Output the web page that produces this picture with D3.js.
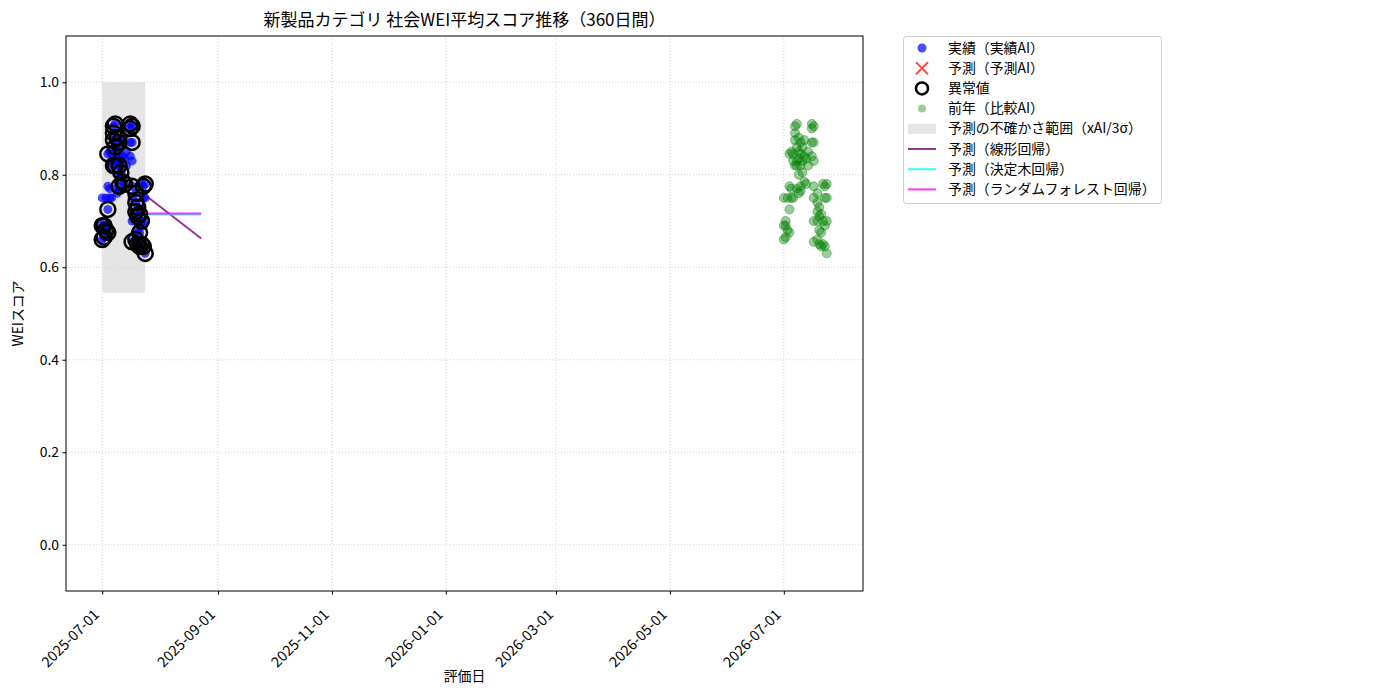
<!DOCTYPE html>
<html>
<head>
<meta charset="utf-8">
<script src="https://cdn.jsdelivr.net/npm/d3@7"></script>
<style>
body { margin: 0; background: #fff; }
text { font-family: "Noto Sans CJK JP", "DejaVu Sans", sans-serif; }
</style>
</head>
<body>
<svg id="place" width="1400" height="700"></svg>
<script>
// actual scores (blue), anomaly flag marks the black rings
var actualDates = [
    "2025-07-01","2025-07-01","2025-07-01","2025-07-02","2025-07-02","2025-07-02",
    "2025-07-03","2025-07-03","2025-07-04","2025-07-04","2025-07-04","2025-07-04",
    "2025-07-05","2025-07-05","2025-07-05","2025-07-06","2025-07-06","2025-07-06",
    "2025-07-07","2025-07-07","2025-07-07","2025-07-07","2025-07-08","2025-07-08",
    "2025-07-08","2025-07-08","2025-07-08","2025-07-09","2025-07-09","2025-07-09",
    "2025-07-09","2025-07-09","2025-07-10","2025-07-10","2025-07-10","2025-07-10",
    "2025-07-10","2025-07-11","2025-07-11","2025-07-11","2025-07-12","2025-07-12",
    "2025-07-12","2025-07-13","2025-07-13","2025-07-14","2025-07-14","2025-07-16",
    "2025-07-16","2025-07-16","2025-07-16","2025-07-17","2025-07-17","2025-07-17",
    "2025-07-17","2025-07-17","2025-07-17","2025-07-17","2025-07-19","2025-07-19",
    "2025-07-19","2025-07-19","2025-07-19","2025-07-20","2025-07-20","2025-07-20",
    "2025-07-20","2025-07-21","2025-07-21","2025-07-21","2025-07-22","2025-07-22",
    "2025-07-22","2025-07-23","2025-07-23","2025-07-23","2025-07-23","2025-07-24",
    "2025-07-24","2025-07-24","2025-07-24"
];
var actualValues = [
    0.750,0.660,0.690,0.665,0.700,0.690,
    0.680,0.750,0.845,0.775,0.725,0.675,
    0.850,0.770,0.750,0.830,0.845,0.750,
    0.905,0.890,0.875,0.820,0.910,0.860,
    0.830,0.820,0.770,0.880,0.850,0.835,
    0.800,0.760,0.870,0.845,0.820,0.775,
    0.765,0.860,0.830,0.805,0.875,0.840,
    0.785,0.835,0.780,0.850,0.820,0.910,
    0.900,0.870,0.840,0.905,0.870,0.830,
    0.775,0.750,0.700,0.655,0.760,0.740,
    0.720,0.700,0.660,0.730,0.710,0.680,
    0.650,0.715,0.675,0.645,0.780,0.700,
    0.650,0.775,0.750,0.690,0.645,0.780,
    0.750,0.700,0.630
];
var anomalyFlags = [
    0,1,1,1,0,1,
    1,0,1,0,1,1,
    0,0,0,0,0,0,
    1,1,1,1,1,1,
    0,1,0,1,0,0,
    0,0,1,0,1,1,
    0,0,0,1,0,0,
    1,0,1,0,0,1,
    1,0,0,1,1,0,
    1,0,0,1,1,1,
    1,0,1,1,1,0,
    1,1,1,1,0,1,
    1,1,0,0,1,1,
    0,0,1
];

// previous year (comparison AI, green)
var prevDates = [
    "2026-07-01","2026-07-01","2026-07-01","2026-07-02","2026-07-02","2026-07-02",
    "2026-07-03","2026-07-03","2026-07-04","2026-07-04","2026-07-04","2026-07-04",
    "2026-07-05","2026-07-05","2026-07-05","2026-07-06","2026-07-06","2026-07-06",
    "2026-07-07","2026-07-07","2026-07-07","2026-07-07","2026-07-08","2026-07-08",
    "2026-07-08","2026-07-08","2026-07-08","2026-07-09","2026-07-09","2026-07-09",
    "2026-07-09","2026-07-09","2026-07-10","2026-07-10","2026-07-10","2026-07-10",
    "2026-07-10","2026-07-11","2026-07-11","2026-07-11","2026-07-12","2026-07-12",
    "2026-07-12","2026-07-13","2026-07-13","2026-07-14","2026-07-14","2026-07-16",
    "2026-07-16","2026-07-16","2026-07-16","2026-07-17","2026-07-17","2026-07-17",
    "2026-07-17","2026-07-17","2026-07-17","2026-07-17","2026-07-19","2026-07-19",
    "2026-07-19","2026-07-19","2026-07-19","2026-07-20","2026-07-20","2026-07-20",
    "2026-07-20","2026-07-21","2026-07-21","2026-07-21","2026-07-22","2026-07-22",
    "2026-07-22","2026-07-23","2026-07-23","2026-07-23","2026-07-23","2026-07-24",
    "2026-07-24","2026-07-24","2026-07-24"
];
var prevValues = [
    0.750,0.660,0.690,0.665,0.700,0.690,
    0.680,0.750,0.845,0.775,0.725,0.675,
    0.850,0.770,0.750,0.830,0.845,0.750,
    0.905,0.890,0.875,0.820,0.910,0.860,
    0.830,0.820,0.770,0.880,0.850,0.835,
    0.800,0.760,0.870,0.845,0.820,0.775,
    0.765,0.860,0.830,0.805,0.875,0.840,
    0.785,0.835,0.780,0.850,0.820,0.910,
    0.900,0.870,0.840,0.905,0.870,0.830,
    0.775,0.750,0.700,0.655,0.760,0.740,
    0.720,0.700,0.660,0.730,0.710,0.680,
    0.650,0.715,0.675,0.645,0.780,0.700,
    0.650,0.775,0.750,0.690,0.645,0.780,
    0.750,0.700,0.630
];

// uncertainty band (xAI / 3 sigma)
var bandDates = ["2025-07-01", "2025-07-24"];
var bandLow = 0.545;
var bandHigh = 1.0;

// forecasts
var forecastDates = ["2025-07-25", "2025-08-23"];
var linearPred = [0.753, 0.662];
var treePred = [0.714, 0.714];
var forestPred = [0.716, 0.716];

var xTicks = ["2025-07-01","2025-09-01","2025-11-01","2026-01-01","2026-03-01","2026-05-01","2026-07-01"];
var yTicks = [0.0, 0.2, 0.4, 0.6, 0.8, 1.0];

var legendLabels = ["実績（実績AI）", "予測（予測AI）", "異常値", "前年（比較AI）",
                    "予測の不確かさ範囲（xAI/3σ）", "予測（線形回帰）", "予測（決定木回帰）",
                    "予測（ランダムフォレスト回帰）"];

var parse = d3.timeParse("%Y-%m-%d");
var mLeft = 66, mRight = 863, mTop = 36, mBottom = 591;

var allDates = actualDates.concat(prevDates, forecastDates).map(parse);
var ext = d3.extent(allDates);
var pad = (ext[1] - ext[0]) * 0.05;

var x = d3.scaleTime()
    .domain([new Date(+ext[0] - pad), new Date(+ext[1] + pad)])
    .range([mLeft, mRight]);
var y = d3.scaleLinear()
    .domain([-0.1, 1.1])
    .range([mBottom, mTop]);

var svg = d3.select("#place");

// grid
var grid = svg.append("g");
xTicks.forEach(function(t) {
    grid.append("line")
	.attr("x1", x(parse(t))).attr("x2", x(parse(t)))
	.attr("y1", mTop).attr("y2", mBottom)
	.attr("stroke", "#b0b0b0").attr("stroke-width", 0.8)
	.attr("stroke-dasharray", "1,2").attr("opacity", 0.7);
});
yTicks.forEach(function(t) {
    grid.append("line")
	.attr("x1", mLeft).attr("x2", mRight)
	.attr("y1", y(t)).attr("y2", y(t))
	.attr("stroke", "#b0b0b0").attr("stroke-width", 0.8)
	.attr("stroke-dasharray", "1,2").attr("opacity", 0.7);
});

// band
svg.append("rect")
    .attr("x", x(parse(bandDates[0])))
    .attr("width", x(parse(bandDates[1])) - x(parse(bandDates[0])))
    .attr("y", y(bandHigh))
    .attr("height", y(bandLow) - y(bandHigh))
    .attr("fill", "#d3d3d3").attr("opacity", 0.6);

// forecast lines
var line = d3.line()
    .x(function(d) { return x(d[0]); })
    .y(function(d) { return y(d[1]); });
var fDates = forecastDates.map(parse);
[[linearPred, "#800080"], [treePred, "#00ffff"], [forestPred, "#ff00ff"]].forEach(function(s) {
    svg.append("path")
	.attr("d", line(fDates.map(function(d, i) { return [d, s[0][i]]; })))
	.attr("fill", "none")
	.attr("stroke", s[1]).attr("stroke-width", 2).attr("opacity", 0.8);
});

// previous year
svg.append("g").selectAll("circle")
    .data(prevValues)
    .enter().append("circle")
    .attr("cx", function(d, i) { return x(parse(prevDates[i])); })
    .attr("cy", function(d) { return y(d); })
    .attr("r", 4.5)
    .attr("fill", "green").attr("stroke", "green").attr("stroke-width", 1)
    .attr("fill-opacity", 0.4).attr("stroke-opacity", 0.4);

// actual
svg.append("g").selectAll("circle")
    .data(actualValues)
    .enter().append("circle")
    .attr("cx", function(d, i) { return x(parse(actualDates[i])); })
    .attr("cy", function(d) { return y(d); })
    .attr("r", 4.5)
    .attr("fill", "blue").attr("opacity", 0.7);

// anomalies
var anomalyIdx = d3.range(actualValues.length).filter(function(i) { return anomalyFlags[i]; });
svg.append("g").selectAll("circle")
    .data(anomalyIdx)
    .enter().append("circle")
    .attr("cx", function(i) { return x(parse(actualDates[i])); })
    .attr("cy", function(i) { return y(actualValues[i]); })
    .attr("r", 7.5)
    .attr("fill", "none").attr("stroke", "black").attr("stroke-width", 2.5);

// axes
var xAxis = d3.axisBottom(x)
    .tickValues(xTicks.map(parse))
    .tickFormat(d3.timeFormat("%Y-%m-%d"))
    .tickSizeOuter(0).tickSize(3.5);
var gx = svg.append("g")
    .attr("transform", "translate(0," + mBottom + ")")
    .call(xAxis);
gx.select(".domain").remove();
gx.selectAll("text")
    .attr("font-size", "14.5px").attr("fill", "#000")
    .attr("text-anchor", "end")
    .attr("x", 0).attr("y", 0).attr("dy", "0.35em")
    .attr("transform", "translate(-6,21)rotate(-45)");

var yAxis = d3.axisLeft(y)
    .tickValues(yTicks)
    .tickFormat(d3.format(".1f"))
    .tickSizeOuter(0).tickSize(3.5).tickPadding(3.5);
var gy = svg.append("g")
    .attr("transform", "translate(" + mLeft + ",0)")
    .call(yAxis);
gy.select(".domain").remove();
gy.selectAll("text").attr("font-size", "13.9px").attr("fill", "#000");

svg.append("rect")
    .attr("x", mLeft).attr("y", mTop)
    .attr("width", mRight - mLeft).attr("height", mBottom - mTop)
    .attr("fill", "none").attr("stroke", "#000").attr("stroke-width", 1);

// titles
svg.append("text")
    .attr("x", (mLeft + mRight) / 2).attr("y", 26)
    .attr("text-anchor", "middle").attr("font-size", "17px")
    .text("新製品カテゴリ 社会WEI平均スコア推移（360日間）");
svg.append("text")
    .attr("x", (mLeft + mRight) / 2).attr("y", 681)
    .attr("text-anchor", "middle").attr("font-size", "13.9px")
    .text("評価日");
svg.append("text")
    .attr("transform", "translate(23," + (mTop + mBottom) / 2 + ")rotate(-90)")
    .attr("text-anchor", "middle").attr("font-size", "13.9px")
    .text("WEIスコア");

// legend
var lg = svg.append("g").attr("transform", "translate(903,36)");
lg.append("rect")
    .attr("x", 0.5).attr("y", 0.5).attr("width", 258).attr("height", 167)
    .attr("rx", 3).attr("fill", "#fff").attr("stroke", "#cccccc");
legendLabels.forEach(function(label, i) {
    var cy = 12 + i * 20.2;
    var g = lg.append("g").attr("transform", "translate(0," + cy + ")");
    if (i === 0) {
	g.append("circle").attr("cx", 19).attr("r", 4.5).attr("fill", "blue").attr("opacity", 0.7);
    } else if (i === 1) {
	g.append("path").attr("d", "M13,-6L25,6M13,6L25,-6")
	    .attr("stroke", "red").attr("stroke-width", 2).attr("opacity", 0.7);
    } else if (i === 2) {
	g.append("circle").attr("cx", 19).attr("r", 6)
	    .attr("fill", "none").attr("stroke", "black").attr("stroke-width", 2.5);
    } else if (i === 3) {
	g.append("circle").attr("cx", 19).attr("r", 4).attr("fill", "green").attr("opacity", 0.4);
    } else if (i === 4) {
	g.append("rect").attr("x", 5).attr("y", -5).attr("width", 28).attr("height", 10)
	    .attr("fill", "#d3d3d3").attr("opacity", 0.6);
    } else {
	var c = ["#800080", "#00ffff", "#ff00ff"][i - 5];
	g.append("line").attr("x1", 5).attr("x2", 33)
	    .attr("stroke", c).attr("stroke-width", 2).attr("opacity", 0.8);
    }
    g.append("text")
	.attr("x", 45).attr("y", 4.5)
	.attr("font-size", "13.9px")
	.text(label);
});
</script>
</body>
</html>
